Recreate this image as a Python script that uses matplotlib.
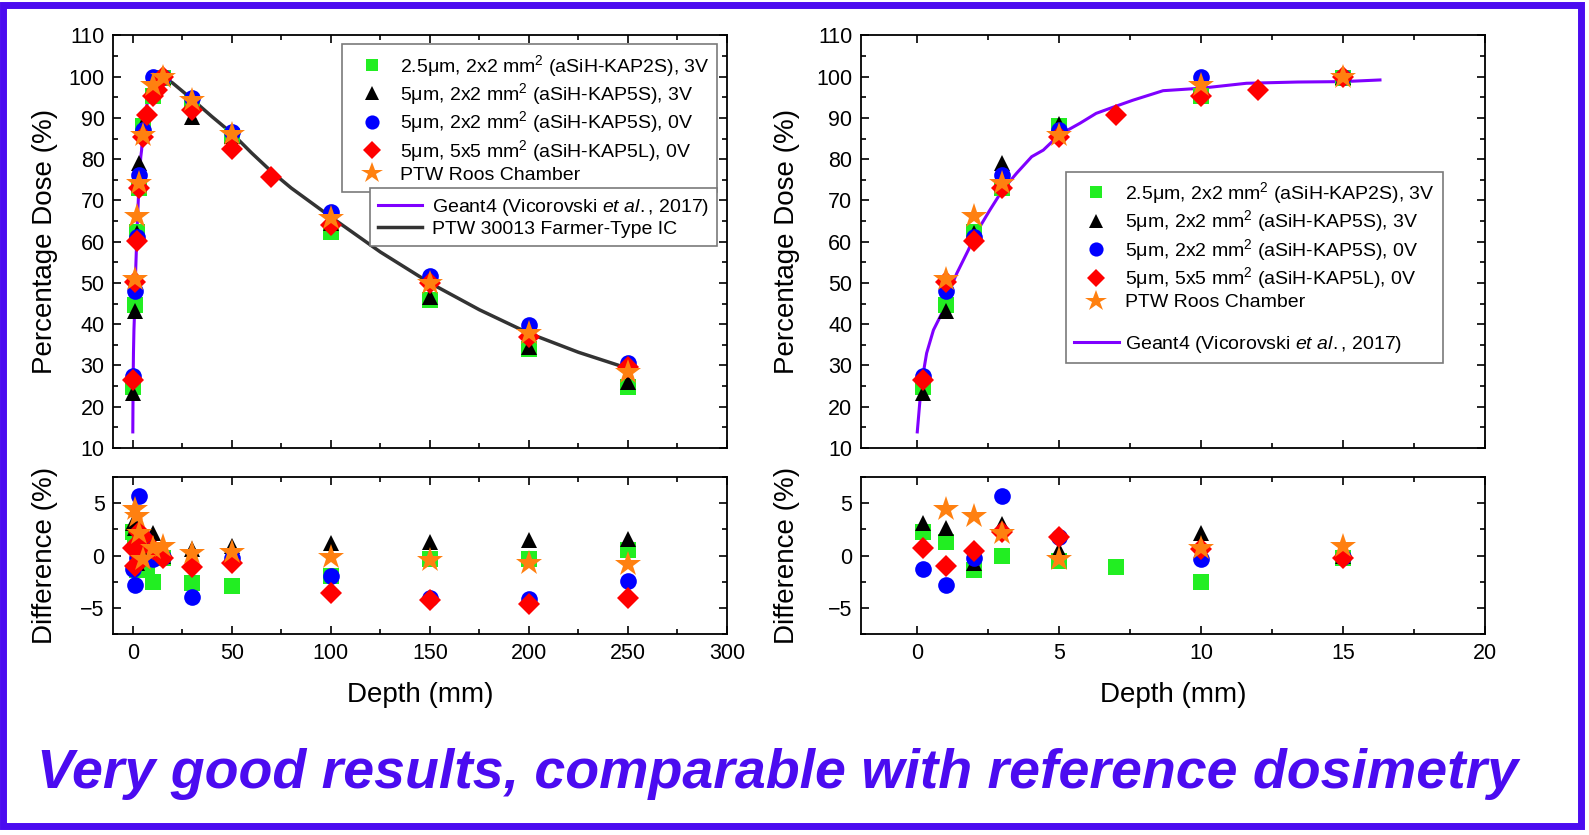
import matplotlib
matplotlib.use("Agg")
import matplotlib.pyplot as plt
from matplotlib.lines import Line2D
from matplotlib.patches import Rectangle
from matplotlib.ticker import MultipleLocator

plt.rcParams['font.family'] = ['Liberation Sans', 'DejaVu Sans']
plt.rcParams['mathtext.fontset'] = 'custom'
plt.rcParams['mathtext.rm'] = 'Liberation Sans'
plt.rcParams['mathtext.it'] = 'Liberation Sans:italic'

# --- data ---
# Percentage depth dose (main panels)
kap2s_depth = [0.2, 1, 2, 3, 5, 10, 15, 30, 50, 100, 150, 200, 250]
kap2s_dose = [24.9, 44.7, 62.4, 73.0, 88.1, 95.2, 99.6, 93.5, 85.5, 62.4, 45.9, 33.9, 24.8]
kap5s3_depth = [0.2, 1, 2, 3, 5, 10, 15, 30, 50, 100, 150, 200, 250]
kap5s3_dose = [23.4, 43.3, 62.0, 79.0, 88.5, 97.2, 100, 90.3, 85.5, 64.5, 46.7, 34.4, 26.1]
kap5s0_depth = [0.2, 1, 2, 3, 5, 10, 15, 30, 50, 100, 150, 200, 250]
kap5s0_dose = [27.4, 48.1, 61.2, 76.2, 87.1, 99.9, 100, 94.8, 86.7, 67.1, 51.7, 39.8, 30.7]
kap5l_depth = [0.2, 1, 2, 3, 5, 7, 10, 12, 15, 30, 50, 70, 100, 150, 200, 250]
kap5l_dose = [26.6, 50.3, 60.2, 72.9, 85.3, 90.7, 95.2, 96.8, 100, 91.8, 82.4, 75.8, 64.1, 50.0, 37.0, 29.7]
roos_depth = [1, 2, 3, 5, 10, 15, 30, 50, 100, 150, 200, 250]
roos_dose = [50.9, 66.2, 74.3, 85.9, 98.0, 100, 94.4, 86.0, 65.7, 49.9, 37.8, 28.5]

# Difference panels
kap2s_diff_depth = [0.2, 1, 2, 3, 5, 7, 10, 15, 30, 50, 100, 150, 200, 250]
kap2s_diff = [2.25, 1.3, -1.4, 0.0, -0.55, -1.05, -2.55, -0.2, -2.65, -2.9, -1.95, -0.3, -0.3, 0.55]
kap5s3_diff_depth = [0.2, 1, 2, 3, 5, 10, 15, 30, 50, 100, 150, 200, 250]
kap5s3_diff = [3.1, 2.6, -0.75, 3.0, 0.5, 2.15, 0.0, 0.6, 0.95, 1.15, 1.25, 1.45, 1.55]
kap5s0_diff_depth = [0.2, 1, 2, 3, 5, 10, 15, 30, 50, 100, 150, 200, 250]
kap5s0_diff = [-1.25, -2.8, -0.2, 5.65, 1.75, -0.35, -0.1, -3.9, -0.2, -1.9, -4.0, -4.1, -2.4]
kap5l_diff_depth = [0.2, 1, 2, 3, 5, 10, 15, 30, 50, 100, 150, 200, 250]
kap5l_diff = [0.75, -1.0, 0.4, 2.25, 1.75, 0.6, -0.2, -1.05, -0.7, -3.6, -4.2, -4.6, -4.0]
roos_diff_depth = [1, 2, 3, 5, 10, 15, 30, 50, 100, 150, 200, 250]
roos_diff = [4.45, 3.8, 2.15, -0.3, 0.75, 0.9, 0.2, 0.3, -0.1, -0.4, -0.7, -0.8]

# Curves
geant4_depth = [0, 0.1, 0.19, 0.33, 0.57, 0.92, 1.0, 1.39, 1.8, 2.03, 2.56, 3.0, 3.5, 4.03,
                4.44, 5.0, 5.73, 6.3, 6.9, 7.6, 8.66, 10.0, 11.6, 13.4, 15.0, 16.3]
geant4_dose = [13.9, 22.0, 27.3, 33.0, 38.6, 43.4, 46.0, 52.3, 58.0, 61.6, 67.7, 72.5, 76.6, 80.6,
               82.2, 85.9, 88.7, 91.1, 92.6, 94.3, 96.6, 97.2, 98.4, 98.7, 98.8, 99.2]
farmer_depth = [15, 20, 30, 40, 50, 60, 70, 80, 100, 125, 150, 175, 200, 225, 250]
farmer_dose = [100, 98.5, 94.5, 90.3, 86.3, 81.5, 77.0, 73.0, 66.0, 57.5, 50.0, 43.5, 37.8, 33.2, 29.3]

labels = ["2.5\u03bcm, 2x2 mm$^2$ (aSiH-KAP2S), 3V",
          "5\u03bcm, 2x2 mm$^2$ (aSiH-KAP5S), 3V",
          "5\u03bcm, 2x2 mm$^2$ (aSiH-KAP5S), 0V",
          "5\u03bcm, 5x5 mm$^2$ (aSiH-KAP5L), 0V",
          "PTW Roos Chamber"]
geant4_label = "Geant4 (Vicorovski $\\mathit{et\\ al.}$, 2017)"
farmer_label = "PTW 30013 Farmer-Type IC"

styles = [dict(marker='s', color='#22ee22', ms=11),
          dict(marker='^', color='black', ms=12),
          dict(marker='o', color='#0000ff', ms=12),
          dict(marker='D', color='#ff0000', ms=11),
          dict(marker='*', color='#ff8010', ms=19)]

main_series = [(kap2s_depth, kap2s_dose), (kap5s3_depth, kap5s3_dose),
               (kap5s0_depth, kap5s0_dose), (kap5l_depth, kap5l_dose),
               (roos_depth, roos_dose)]
diff_series = [(kap2s_diff_depth, kap2s_diff), (kap5s3_diff_depth, kap5s3_diff),
               (kap5s0_diff_depth, kap5s0_diff), (kap5l_diff_depth, kap5l_diff),
               (roos_diff_depth, roos_diff)]

W, H = 1589, 835
fig = plt.figure(figsize=(W / 100, H / 100), dpi=100)


def rect(x0, y0, x1, y1):
    return [x0 / W, 1 - y1 / H, (x1 - x0) / W, (y1 - y0) / H]


def style_axis(ax):
    ax.tick_params(which='both', direction='in', top=True, right=True, labelsize=15.5, pad=6)
    ax.tick_params(which='major', length=6, width=1.2)
    ax.tick_params(which='minor', length=3.5, width=1.2)
    for s in ax.spines.values():
        s.set_linewidth(1.3)


def draw_points(ax, series):
    for (x, y), st in zip(series, styles):
        ax.plot(x, y, linestyle='none', marker=st['marker'], color=st['color'],
                markersize=st['ms'], markeredgewidth=0, zorder=3)


legend_kw = dict(fontsize=14, frameon=True, fancybox=False, framealpha=1,
                 edgecolor='#7a7a7a', borderaxespad=0, handlelength=2.3,
                 labelspacing=0.13, borderpad=0.42)

marker_handles = [Line2D([], [], linestyle='none', marker=st['marker'], color=st['color'],
                         markersize=st['ms'] * 0.85, markeredgewidth=0) for st in styles]

# ---------------- left panels ----------------
axL = fig.add_axes(rect(113, 35.4, 727, 448))
axL.plot(geant4_depth, geant4_dose, color='#7f00ff', lw=2.2, zorder=2)
axL.plot(farmer_depth, farmer_dose, color='#333333', lw=2.5, zorder=2)
draw_points(axL, main_series)
axL.set_xlim(-10, 300)
axL.set_ylim(10, 110)
axL.xaxis.set_major_locator(MultipleLocator(50))
axL.xaxis.set_minor_locator(MultipleLocator(25))
axL.yaxis.set_major_locator(MultipleLocator(10))
axL.yaxis.set_minor_locator(MultipleLocator(5))
style_axis(axL)
axL.tick_params(labelbottom=False)
axL.set_ylabel("Percentage Dose (%)", fontsize=20)

leg1 = axL.legend(marker_handles, labels, loc='upper right', bbox_to_anchor=(0.9845, 0.978),
                  handletextpad=0.25, **legend_kw)
leg1.get_frame().set_linewidth(1.2)
axL.add_artist(leg1)
line_handles = [Line2D([], [], color='#7f00ff', lw=2.2), Line2D([], [], color='#333333', lw=2.5)]
leg2 = axL.legend(line_handles, [geant4_label, farmer_label], loc='upper right',
                  bbox_to_anchor=(0.9845, 0.629), handletextpad=0.5, **legend_kw)
leg2.get_frame().set_linewidth(1.2)

axLd = fig.add_axes(rect(113, 476.7, 727, 634.4))
draw_points(axLd, diff_series)
axLd.set_xlim(-10, 300)
axLd.set_ylim(-7.5, 7.5)
axLd.xaxis.set_major_locator(MultipleLocator(50))
axLd.xaxis.set_minor_locator(MultipleLocator(25))
axLd.yaxis.set_major_locator(MultipleLocator(5))
axLd.yaxis.set_minor_locator(MultipleLocator(2.5))
style_axis(axLd)
axLd.set_ylabel("Difference (%)", fontsize=20)
axLd.set_xlabel("Depth (mm)", fontsize=20, labelpad=13)

# ---------------- right panels ----------------
axR = fig.add_axes(rect(860.5, 35.4, 1485, 448))
axR.plot(geant4_depth, geant4_dose, color='#7f00ff', lw=2.2, zorder=2)
draw_points(axR, main_series)
axR.set_xlim(-2, 20)
axR.set_ylim(10, 110)
axR.xaxis.set_major_locator(MultipleLocator(5))
axR.xaxis.set_minor_locator(MultipleLocator(2.5))
axR.yaxis.set_major_locator(MultipleLocator(10))
axR.yaxis.set_minor_locator(MultipleLocator(5))
style_axis(axR)
axR.tick_params(labelbottom=False)
axR.set_ylabel("Percentage Dose (%)", fontsize=20)

blank = Line2D([], [], linestyle='none')
legR = axR.legend(marker_handles + [blank, Line2D([], [], color='#7f00ff', lw=2.2)],
                  labels + [" ", geant4_label], loc='upper left',
                  bbox_to_anchor=(0.329, 0.669), handletextpad=0.3, **legend_kw)
legR.get_frame().set_linewidth(1.2)

axRd = fig.add_axes(rect(860.5, 476.7, 1485, 634.4))
draw_points(axRd, diff_series)
axRd.set_xlim(-2, 20)
axRd.set_ylim(-7.5, 7.5)
axRd.xaxis.set_major_locator(MultipleLocator(5))
axRd.xaxis.set_minor_locator(MultipleLocator(2.5))
axRd.yaxis.set_major_locator(MultipleLocator(5))
axRd.yaxis.set_minor_locator(MultipleLocator(2.5))
style_axis(axRd)
axRd.set_ylabel("Difference (%)", fontsize=20)
axRd.set_xlabel("Depth (mm)", fontsize=20, labelpad=13)

for ax in (axL, axLd):
    ax.yaxis.set_label_coords(-0.09, 0.5)
for ax in (axR, axRd):
    ax.yaxis.set_label_coords(-0.097, 0.5)

# frame and banner text
fig.patches.append(Rectangle((3 / W, 1 - 826 / H), 1578 / W, 821 / H, transform=fig.transFigure,
                             fill=False, edgecolor='#4b0bf0', lw=5))
fig.text(778 / W, 1 - 774 / H, "Very good results, comparable with reference dosimetry",
         ha='center', va='center', fontsize=40, fontweight='bold', style='italic',
         color='#4b0bf0')

fig.savefig("out.png", dpi=100)
